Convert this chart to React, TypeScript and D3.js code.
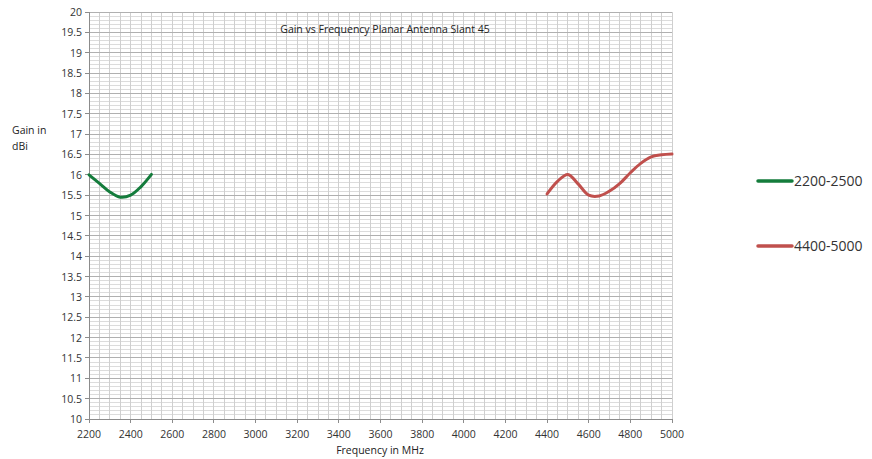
import React from "react";
import * as d3 from "d3";

// series (MHz, dBi)
const lowFreq = [2200, 2250, 2300, 2350, 2400, 2450, 2500];
const lowGain = [16.0, 15.79, 15.58, 15.45, 15.5, 15.71, 16.01];
const highFreq = [4400, 4450, 4500, 4550, 4600, 4650, 4700, 4750, 4800, 4850, 4900, 4950, 5000];
const highGain = [15.53, 15.84, 16.01, 15.77, 15.5, 15.48, 15.6, 15.79, 16.05, 16.28, 16.44, 16.49, 16.51];
const xTicks = d3.range(2200, 5001, 200);
const yTicks = d3.range(10, 20.01, 0.5);
const seriesNames = ["2200-2500", "4400-5000"];
const seriesColors = ["#147c3c", "#c0504d"];

const font = "'Open Sans', 'Liberation Sans', sans-serif";

export default function App() {
  const width = 872;
  const height = 459;
  const x = d3.scaleLinear().domain([2200, 5000]).range([89, 672]);
  const y = d3.scaleLinear().domain([10, 20]).range([419, 12]);

  const line = d3
    .line<[number, number]>()
    .x((d) => x(d[0]))
    .y((d) => y(d[1]))
    .curve(d3.curveCatmullRom.alpha(0.5));

  const series = [
    lowFreq.map((f, i) => [f, lowGain[i]] as [number, number]),
    highFreq.map((f, i) => [f, highGain[i]] as [number, number]),
  ];

  const minorX = d3.range(2200, 5001, 50);
  const minorY = d3.range(100, 201, 1).map((v) => v / 10);

  return (
    <svg
      width={width}
      height={height}
      style={{ position: "absolute", left: 0, top: 0, background: "#fff" }}
    >
      <g shapeRendering="crispEdges">
        {minorY.map((v) => (
          <line
            key={"hy" + v}
            x1={x(2200)}
            x2={x(5000)}
            y1={y(v)}
            y2={y(v)}
            stroke="#dcdcdc"
          />
        ))}
        {minorX.map((v) => (
          <line
            key={"vx" + v}
            x1={x(v)}
            x2={x(v)}
            y1={y(10)}
            y2={y(20)}
            stroke="#cfcfcf"
          />
        ))}
        {yTicks.map((v) => (
          <line
            key={"my" + v}
            x1={x(2200)}
            x2={x(5000)}
            y1={y(v)}
            y2={y(v)}
            stroke="#b0b0b0"
          />
        ))}
        <line x1={x(2200)} x2={x(2200)} y1={y(10)} y2={y(20)} stroke="#8c8c8c" />
        <line x1={x(2200)} x2={x(5000)} y1={y(10)} y2={y(10)} stroke="#8c8c8c" />
        {yTicks.map((v) => (
          <line
            key={"ty" + v}
            x1={x(2200) - 4}
            x2={x(2200)}
            y1={y(v)}
            y2={y(v)}
            stroke="#8c8c8c"
          />
        ))}
        {xTicks.map((v) => (
          <line
            key={"tx" + v}
            x1={x(v)}
            x2={x(v)}
            y1={y(10)}
            y2={y(10) + 4}
            stroke="#8c8c8c"
          />
        ))}
      </g>

      {yTicks.map((v) => (
        <text
          key={"ly" + v}
          x={x(2200) - 7}
          y={y(v) + 4}
          textAnchor="end"
          fontFamily={font}
          fontSize={10.5}
          fill="#333"
        >
          {d3.format("~g")(v)}
        </text>
      ))}
      {xTicks.map((v) => (
        <text
          key={"lx" + v}
          x={x(v)}
          y={y(10) + 19}
          textAnchor="middle"
          fontFamily={font}
          fontSize={10.5}
          fill="#333"
        >
          {v}
        </text>
      ))}

      <text x={385} y={33} textAnchor="middle" fontFamily={font} fontSize={10.5} fill="#222">
        Gain vs Frequency Planar Antenna Slant 45
      </text>
      <text x={380} y={454} textAnchor="middle" fontFamily={font} fontSize={10.5} fill="#222">
        Frequency in MHz
      </text>
      <text x={12} y={134} fontFamily={font} fontSize={10.5} fill="#222">
        Gain in
      </text>
      <text x={12} y={150} fontFamily={font} fontSize={10.5} fill="#222">
        dBi
      </text>

      {series.map((s, i) => (
        <path
          key={"s" + i}
          d={line(s) || ""}
          fill="none"
          stroke={seriesColors[i]}
          strokeWidth={3}
          strokeLinecap="round"
          strokeLinejoin="round"
        />
      ))}

      {seriesNames.map((name, i) => (
        <g key={"lg" + i} transform={`translate(0,${181 + i * 65})`}>
          <line
            x1={758}
            x2={792}
            y1={0}
            y2={0}
            stroke={seriesColors[i]}
            strokeWidth={3.5}
            strokeLinecap="round"
          />
          <text x={794} y={5} fontFamily={font} fontSize={14} fill="#333">
            {name}
          </text>
        </g>
      ))}
    </svg>
  );
}
